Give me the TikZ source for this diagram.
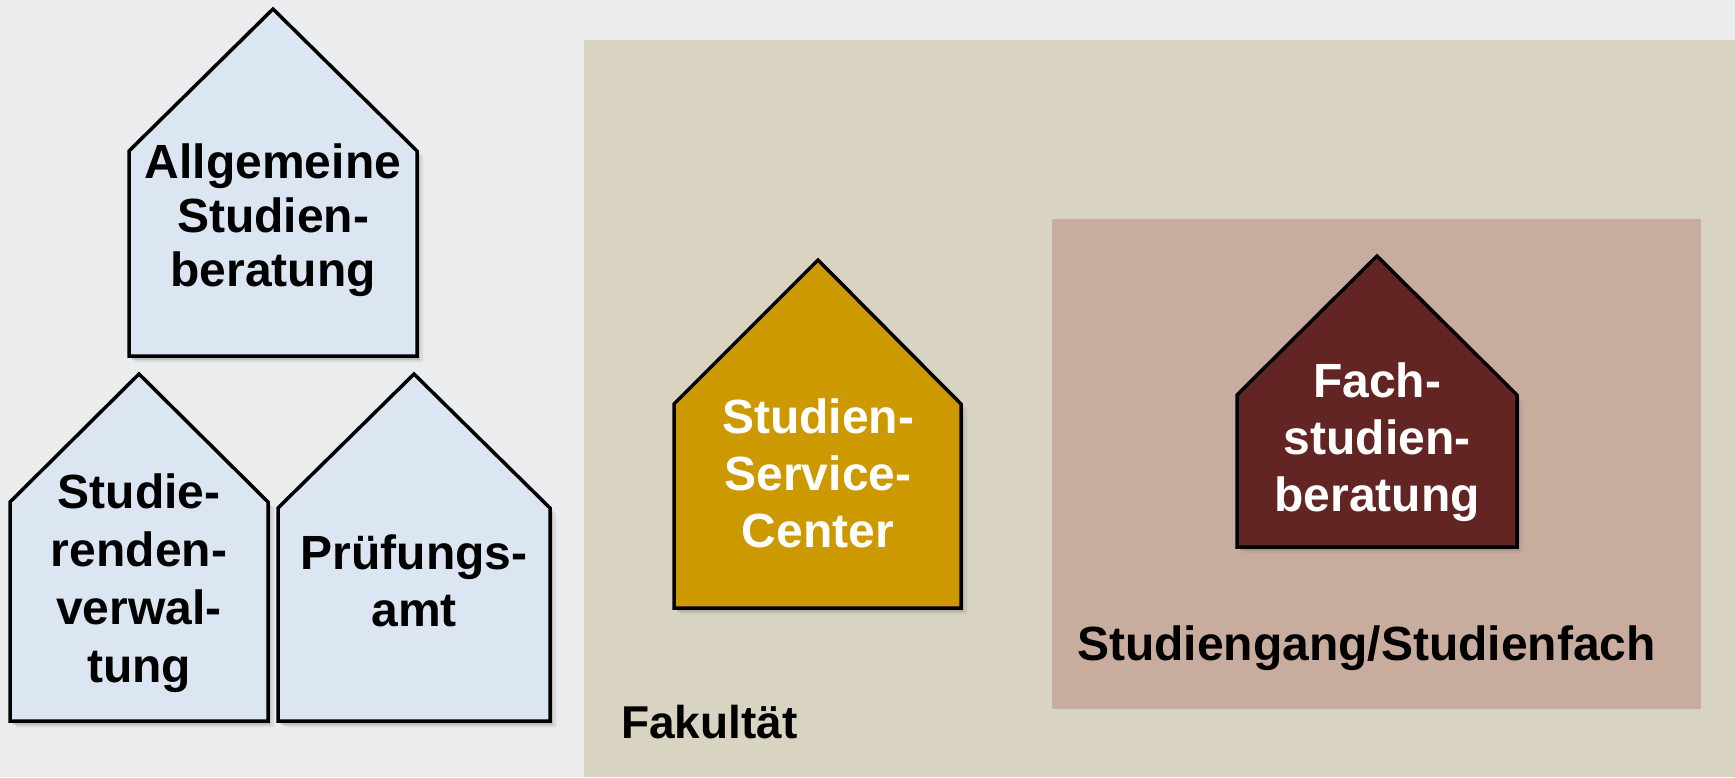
\documentclass[tikz,border=0pt]{standalone}
\usepackage{fontspec}
\setmainfont{Liberation Sans}
\usetikzlibrary{shadows}
\definecolor{bggray}{HTML}{EBECEE}
\definecolor{fakbeige}{HTML}{D9D3C1}
\definecolor{fachrose}{HTML}{C8AC9E}
\definecolor{hblue}{HTML}{DCE6F2}
\definecolor{ssgold}{HTML}{CC9900}
\definecolor{fachred}{HTML}{632523}

\begin{document}
\begin{tikzpicture}[x=1pt,y=-1pt,
  house/.style={draw=black,line width=3.5pt,line join=miter,
    drop shadow={shadow xshift=6pt,shadow yshift=-6pt,opacity=0.15},
    drop shadow={shadow xshift=3pt,shadow yshift=-4pt,opacity=0.3}},
  htext/.style={align=center,inner sep=0pt,font=\fontsize{48}{57}\selectfont\bfseries},
  area/.style={anchor=base west,inner sep=0pt,font=\bfseries}
]
% Background and areas
\useasboundingbox (0,0) rectangle (1735,777);
\fill[bggray] (0,0) rectangle (1735,777);
\fill[fakbeige] (584,40) rectangle (1735,777);
\fill[fachrose] (1052,219) rectangle (1701,709);

% Central offices
\draw[house,fill=hblue] (129,356) -- (129,151) -- (273,9) -- (417,151) -- (417,356) -- cycle;
\node[htext,font=\fontsize{48}{54}\selectfont\bfseries] (allg) at (273,220) {Allgemeine\\Studien-\\beratung};

\draw[house,fill=hblue] (10,721) -- (10,502) -- (139,374) -- (268,502) -- (268,721) -- cycle;
\node[htext,font=\fontsize{48}{58}\selectfont\bfseries] (verw) at (139,583) {Studie-\\renden-\\verwal-\\tung};

\draw[house,fill=hblue] (278,721) -- (278,508) -- (414,374) -- (550,508) -- (550,721) -- cycle;
\node[htext] (pruef) at (414,581) {Prüfungs-\\amt};

% Faculty
\draw[house,fill=ssgold] (674,608) -- (674,404) -- (818,260) -- (961,404) -- (961,608) -- cycle;
\node[htext,text=white] (ssc) at (818,473) {Studien-\\Service-\\Center};
\node[area,font=\fontsize{46}{55}\selectfont\bfseries] (fak) at (621,738) {Fakultät};

% Subject
\draw[house,fill=fachred] (1237,547) -- (1237,395) -- (1377,256) -- (1517,395) -- (1517,547) -- cycle;
\node[htext,text=white] (fach) at (1377,442) {Fach-\\studien-\\beratung};
\node[area,font=\fontsize{48}{57}\selectfont\bfseries] (sgang) at (1077,660) {Studiengang/Studienfach};
\end{tikzpicture}
\end{document}
